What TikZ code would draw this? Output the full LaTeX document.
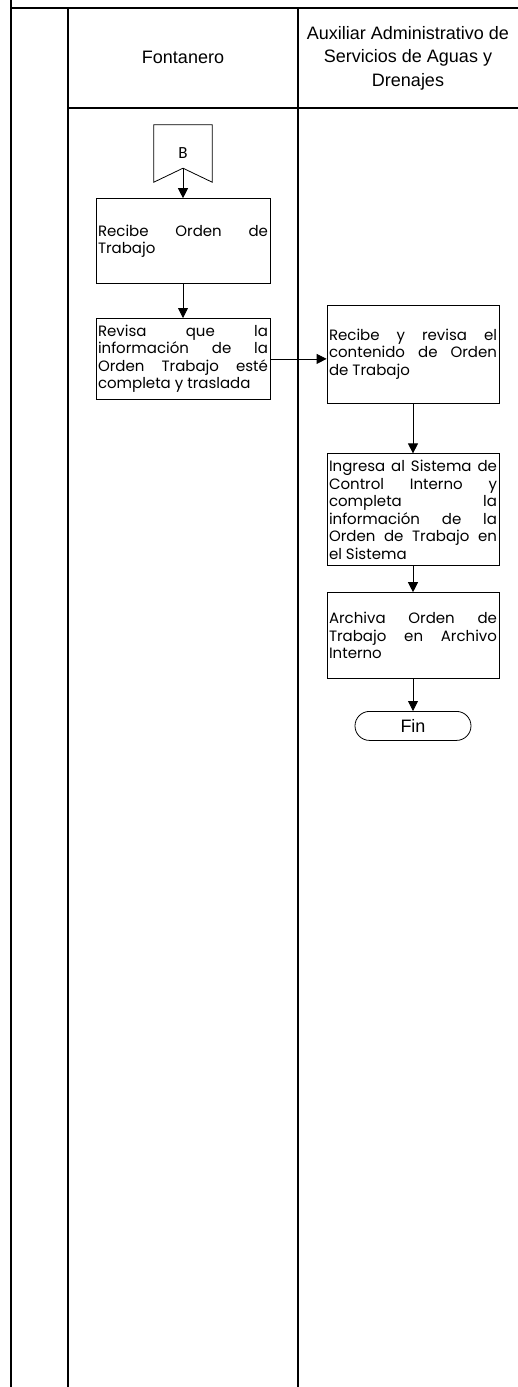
\documentclass[tikz,border=0pt]{standalone}
\usepackage{fontspec}
\setmainfont{Liberation Sans}
\newfontfamily\bodyfont{Poppins}
\newfontfamily\connfont{Carlito}
\usetikzlibrary{arrows.meta, positioning, calc}

\begin{document}
\begin{tikzpicture}[
    x=1pt, y=1pt,
    lane/.style={line width=1.3pt},
    box/.style={rectangle, draw, line width=0.8pt, minimum width=174pt, text width=170pt, inner sep=2pt, align=justify, font=\bodyfont\fontsize{15}{17.5}\selectfont},
    header/.style={align=center, font=\fontsize{18}{23.5}\selectfont},
    terminal/.style={rectangle, draw, line width=0.8pt, rounded corners=14.5pt, minimum width=116pt, minimum height=29pt, font=\fontsize{18}{20}\selectfont},
    arrow/.style={-{Triangle[length=10pt,width=10pt]}, line width=0.8pt}
]
\useasboundingbox (0,0) rectangle (518,-1387);

% Lanes
\draw [lane] (11,0) -- (11,-1387);
\draw [lane] (11,-8) -- (518,-8);
\draw [lane] (68,-8) -- (68,-1387);
\draw [lane] (298,-8) -- (298,-1387);
\draw [lane] (68,-108) -- (518,-108);

% Headers
\node (hfont) [header] at (183,-57) {Fontanero};
\node (haux) [header] at (408,-58) {Auxiliar Administrativo de\\Servicios de Aguas y\\Drenajes};

% Connector B
\node (b) [minimum width=58pt, minimum height=57pt, inner sep=0pt, font=\connfont\fontsize{17}{20}\selectfont] at (183,-153.5) {B};
\coordinate (bnotch) at ($(b.south)+(0,14)$);
\draw [line width=0.8pt] (b.south west) -- (b.north west) -- (b.north east) -- (b.south east) -- (bnotch) -- cycle;

% Fontanero
\node (recibe) [box, minimum height=85pt, below=16pt of b] {Recibe Orden de\linebreak Trabajo};
\node (revisa) [box, minimum height=81pt, below=34pt of recibe] {Revisa que la\linebreak informaci\'on de la\linebreak Orden Trabajo est\'e\linebreak completa y traslada};

% Auxiliar
\node (recibeaux) [box, minimum width=172pt, text width=168pt, minimum height=98pt] at (413,-354) {Recibe y revisa el\linebreak contenido de Orden\linebreak de Trabajo};
\node (ingresa) [box, minimum width=172pt, text width=168pt, minimum height=112pt, below=50pt of recibeaux] {Ingresa al Sistema de\linebreak Control Interno y\linebreak completa la\linebreak informaci\'on de la\linebreak Orden de Trabajo en\linebreak el Sistema};
\node (archiva) [box, minimum width=172pt, text width=168pt, minimum height=86pt, below=26pt of ingresa] {Archiva Orden de\linebreak Trabajo en Archivo\linebreak Interno};
\node (fin) [terminal, below=32pt of archiva] {Fin};

% Arrows
\draw [arrow] (bnotch) -- (recibe);
\draw [arrow] (recibe) -- (revisa);
\draw [arrow] (revisa.east) -- (revisa.east -| recibeaux.west);
\draw [arrow] (recibeaux) -- (ingresa);
\draw [arrow] (ingresa) -- (archiva);
\draw [arrow] (archiva) -- (fin);

\end{tikzpicture}
\end{document}
